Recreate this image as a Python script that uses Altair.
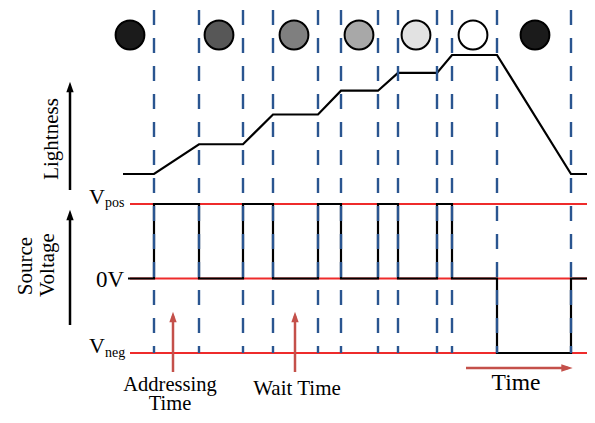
import altair as alt
import pandas as pd

# ---- data (time in the figure's own horizontal units) ----
# boundaries of addressing/wait periods (dashed lines)
boundary_times = [154, 199, 243, 273, 318, 341, 378, 398, 437, 452, 497, 571]

# lightness trace (time, relative lightness 0..100)
light_t = [123, 154, 199, 243, 273, 318, 341, 378, 398, 437, 452, 497, 571, 589]
light_v = [0, 0, 25, 25, 50, 50, 70, 70, 85, 85, 100, 100, 0, 0]

# source voltage (step-after: value holds until next time), +1=Vpos, 0=0V, -1=Vneg
volt_t = [128, 154, 199, 243, 273, 318, 341, 378, 398, 437, 452, 497, 571, 590]
volt_v = [0, 1, 0, 1, 0, 1, 0, 1, 0, 1, 0, -1, 0, 0]

# voltage reference levels
level_names = ["pos", "zero", "neg"]
level_values = [1, 0, -1]
level_t_start = [130, 130, 130]
level_t_end = [595, 595, 595]

# pixel states (circle centres and their grey level)
circle_t = [130, 219, 294, 359, 416, 473, 535]
circle_fill = ["#1b1b1b", "#575757", "#7f7f7f", "#a8a8a8", "#e2e2e2", "#ffffff", "#1b1b1b"]

# marker arrows in time
marker_t = [173, 295]

W, H = 579, 407
x_scale = alt.Scale(domain=[8, 587], range=[0, W])
light_scale = alt.Scale(domain=[0, 100], range=[166, 47])
volt_scale = alt.Scale(domain=[-1, 1], range=[345, 196])
FONT = "Liberation Serif"

df_light = pd.DataFrame({"t": light_t, "L": light_v, "o": range(len(light_t))})
df_volt = pd.DataFrame({"t": volt_t, "V": volt_v, "o": range(len(volt_t))})
df_levels = pd.DataFrame({"name": level_names, "V": level_values,
                          "t0": level_t_start, "t1": level_t_end})
df_bound = pd.DataFrame({"t": boundary_times})
df_circ = pd.DataFrame({"t": circle_t, "fill": circle_fill})
df_mark = pd.DataFrame({"t": marker_t})

X = alt.X("t:Q", scale=x_scale, axis=None)

levels = alt.Chart(df_levels).mark_rule(color="#ee2b2b", strokeWidth=2).encode(
    x=alt.X("t0:Q", scale=x_scale, axis=None), x2="t1:Q",
    y=alt.Y("V:Q", scale=volt_scale, axis=None))

volt = alt.Chart(df_volt).mark_line(color="black", strokeWidth=2.2,
                                     interpolate="step-after").encode(
    x=X, y=alt.Y("V:Q", scale=volt_scale, axis=None), order="o:Q")

light = alt.Chart(df_light).mark_line(color="black", strokeWidth=2.2).encode(
    x=X, y=alt.Y("L:Q", scale=light_scale, axis=None), order="o:Q")

dashes = alt.Chart(df_bound).mark_rule(color="#2a5590", strokeWidth=2.4,
                                       strokeDash=[15, 13]).encode(
    x=X, y=alt.value(2), y2=alt.value(345))

circles = alt.Chart(df_circ).mark_point(filled=True, size=830, shape="circle",
                                        stroke="black", strokeWidth=2,
                                        opacity=1).encode(
    x=X, y=alt.value(27), fill=alt.Fill("fill:N", scale=None),
    stroke=alt.value("black"), strokeOpacity=alt.value(1))

# black axis arrows
head_up = "M-0.7,1L0,-1L0.7,1Z"
head_right = "M-1,-0.65L1,0L-1,0.65Z"
ax_df = pd.DataFrame({"k": [0]})
arr_light_shaft = alt.Chart(ax_df).mark_rule(color="black", strokeWidth=2.5).encode(
    x=alt.value(62), y=alt.value(84), y2=alt.value(182))
arr_light_head = alt.Chart(ax_df).mark_point(shape=head_up, size=110, filled=True,
                                             color="black", opacity=1).encode(
    x=alt.value(62), y=alt.value(79))
arr_volt_shaft = alt.Chart(ax_df).mark_rule(color="black", strokeWidth=2.5).encode(
    x=alt.value(62), y=alt.value(212), y2=alt.value(317))
arr_volt_head = alt.Chart(ax_df).mark_point(shape=head_up, size=110, filled=True,
                                            color="black", opacity=1).encode(
    x=alt.value(62), y=alt.value(207))

# red marker arrows
mk_shaft = alt.Chart(df_mark).mark_rule(color="#c4504a", strokeWidth=2.5).encode(
    x=X, y=alt.value(308), y2=alt.value(364))
mk_head = alt.Chart(df_mark).mark_point(shape=head_up, size=110, filled=True,
                                        color="#c4504a", opacity=1).encode(
    x=X, y=alt.value(309))
time_shaft = alt.Chart(ax_df).mark_rule(color="#c4504a", strokeWidth=2.5).encode(
    x=alt.value(458), x2=alt.value(560), y=alt.value(360))
time_head = alt.Chart(ax_df).mark_point(shape=head_right, size=130, filled=True,
                                        color="#c4504a", opacity=1).encode(
    x=alt.value(559), y=alt.value(360))


def txt(text, x, y, size=20, angle=0, align="center", baseline="alphabetic",
        line_height=None):
    kw = dict(text=text, font=FONT, fontSize=size, color="black",
              align=align, baseline=baseline)
    if angle:
        kw["angle"] = angle
    if line_height:
        kw["lineHeight"] = line_height
    return alt.Chart(ax_df).mark_text(**kw).encode(x=alt.value(x), y=alt.value(y))


texts = [
    txt("Lightness", 44, 131, size=21, angle=270, baseline="middle"),
    txt("Source", 18, 258, size=21, angle=270, baseline="middle"),
    txt("Voltage", 40, 257, size=21, angle=270, baseline="middle"),
    txt("V", 97, 196, size=22, align="right"),
    txt("pos", 97, 199, size=14, align="left"),
    txt("0V", 116, 279, size=23, align="right"),
    txt("V", 97, 345, size=22, align="right"),
    txt("neg", 97, 349, size=14, align="left"),
    txt(["Addressing", "Time"], 162, 383, size=20.5, line_height=19),
    txt("Wait Time", 289, 387, size=21),
    txt("Time", 508, 382, size=23.5),
]

chart = alt.layer(
    levels, volt, light, dashes, circles,
    arr_light_shaft, arr_light_head, arr_volt_shaft, arr_volt_head,
    mk_shaft, mk_head, time_shaft, time_head, *texts
).resolve_scale(y="independent").properties(
    width=W, height=H, padding=0, autosize=alt.AutoSizeParams(type="none"),
    background="white"
).configure_view(stroke=None)

chart.save("out.html", embed_options={"renderer": "svg", "actions": False})
